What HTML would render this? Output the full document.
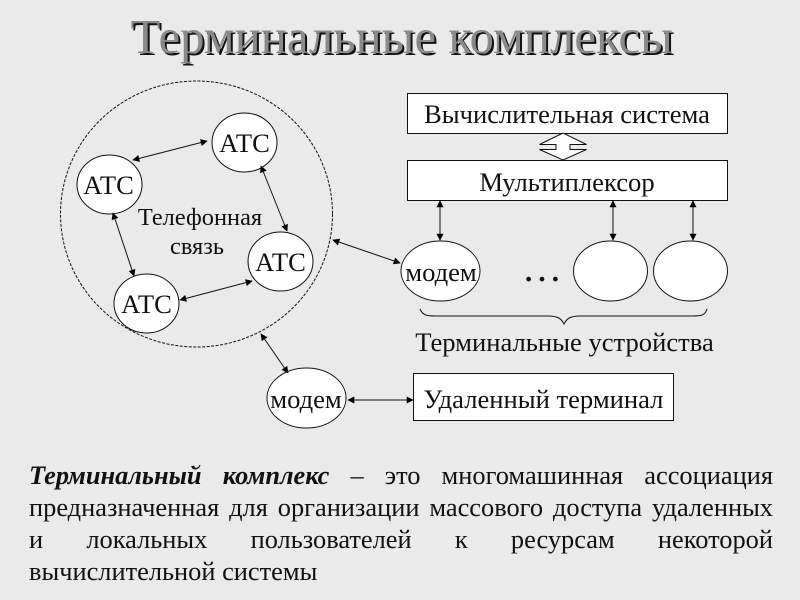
<!DOCTYPE html>
<html lang="ru">
<head>
<meta charset="utf-8">
<style>
html,body{margin:0;padding:0;width:800px;height:600px;overflow:hidden;background:#eaeaea}
body{position:relative;font-family:"Liberation Serif","Noto Serif CJK SC",serif;color:#111}
svg{position:absolute;left:0;top:0}
.l{position:absolute;left:29px;width:744px;font-size:26.4px;line-height:32px;height:32px;white-space:nowrap;text-align:justify;text-align-last:justify}
.l.last{text-align-last:left}
</style>
</head>
<body>
<svg width="800" height="600" viewBox="0 0 800 600" font-family="'Liberation Serif',serif" fill="#111">
<defs>
<marker id="a" viewBox="0 0 10 10" refX="9" refY="5" markerWidth="8" markerHeight="7" markerUnits="userSpaceOnUse" orient="auto-start-reverse"><path d="M0 0L10 5L0 10z" fill="#000"/></marker>
</defs>
<text x="132.5" y="55" font-size="48.8" fill="#111">Терминальные комплексы</text>
<text x="130.5" y="53" font-size="48.8" fill="#8a8a8a">Терминальные комплексы</text>

<ellipse cx="196.5" cy="214" rx="136" ry="133" fill="none" stroke="#111" stroke-width="1" stroke-dasharray="3 1.5"/>

<g fill="#fff" stroke="#111" stroke-width="1">
<ellipse cx="244.5" cy="142.5" rx="32.5" ry="29.5"/>
<ellipse cx="109.5" cy="184.5" rx="32.5" ry="29.5"/>
<ellipse cx="280.5" cy="261.5" rx="32.5" ry="29.5"/>
<ellipse cx="146.5" cy="303.5" rx="32.5" ry="29.5"/>
<ellipse cx="440.5" cy="271" rx="39.5" ry="30"/>
<ellipse cx="610.5" cy="271" rx="37" ry="30"/>
<ellipse cx="690.5" cy="271" rx="37" ry="30"/>
<ellipse cx="306.5" cy="398" rx="39.5" ry="30"/>
<rect x="407.5" y="93.5" width="320" height="40"/>
<rect x="407.5" y="160.5" width="320" height="40"/>
<rect x="413.5" y="373.5" width="260" height="47"/>
<path d="M563 133L539.5 144.5H556V149.5H539.5L563 160L586.5 149.5H570V144.5H586.5Z"/>
</g>

<g stroke="#111" stroke-width="1" fill="none" marker-start="url(#a)" marker-end="url(#a)">
<line x1="133" y1="160" x2="207" y2="141"/>
<line x1="113" y1="213" x2="134" y2="276"/>
<line x1="180" y1="300" x2="252" y2="281"/>
<line x1="261" y1="166" x2="287" y2="231"/>
<line x1="333" y1="240" x2="400" y2="263"/>
<line x1="261" y1="334" x2="288" y2="373"/>
<line x1="440" y1="201" x2="440" y2="240"/>
<line x1="613" y1="201" x2="613" y2="240"/>
<line x1="693" y1="201" x2="693" y2="240"/>
<line x1="348" y1="400" x2="413" y2="400"/>
</g>
<path d="M420 309C423 316 428 316 436 316H548C557 316 561 318 564 324C567 318 571 316 580 316H692C700 316 705 316 707 309" fill="none" stroke="#111" stroke-width="1"/>

<g font-size="26.6" text-anchor="middle">
<text x="244.5" y="152">АТС</text>
<text x="108.5" y="194">АТС</text>
<text x="280.5" y="271">АТС</text>
<text x="146.5" y="313">АТС</text>
<text x="200" y="225" font-size="24.4">Телефонная</text>
<text x="197" y="254" font-size="24.4">связь</text>
<text x="567" y="123">Вычислительная система</text>
<text x="567" y="191">Мультиплексор</text>
<text x="441" y="281">модем</text>
<text x="306" y="408">модем</text>
<text x="542" y="281" font-size="40">…</text>
<text x="564.5" y="351">Терминальные устройства</text>
<text x="543.5" y="408">Удаленный терминал</text>
</g>
</svg>
<div class="l" style="top:459px"><b><i>Терминальный комплекс</i></b> – это многомашинная ассоциация</div>
<div class="l" style="top:491px">предназначенная для организации массового доступа удаленных</div>
<div class="l" style="top:523px">и локальных пользователей к ресурсам некоторой</div>
<div class="l last" style="top:555px">вычислительной системы</div>
</body>
</html>
